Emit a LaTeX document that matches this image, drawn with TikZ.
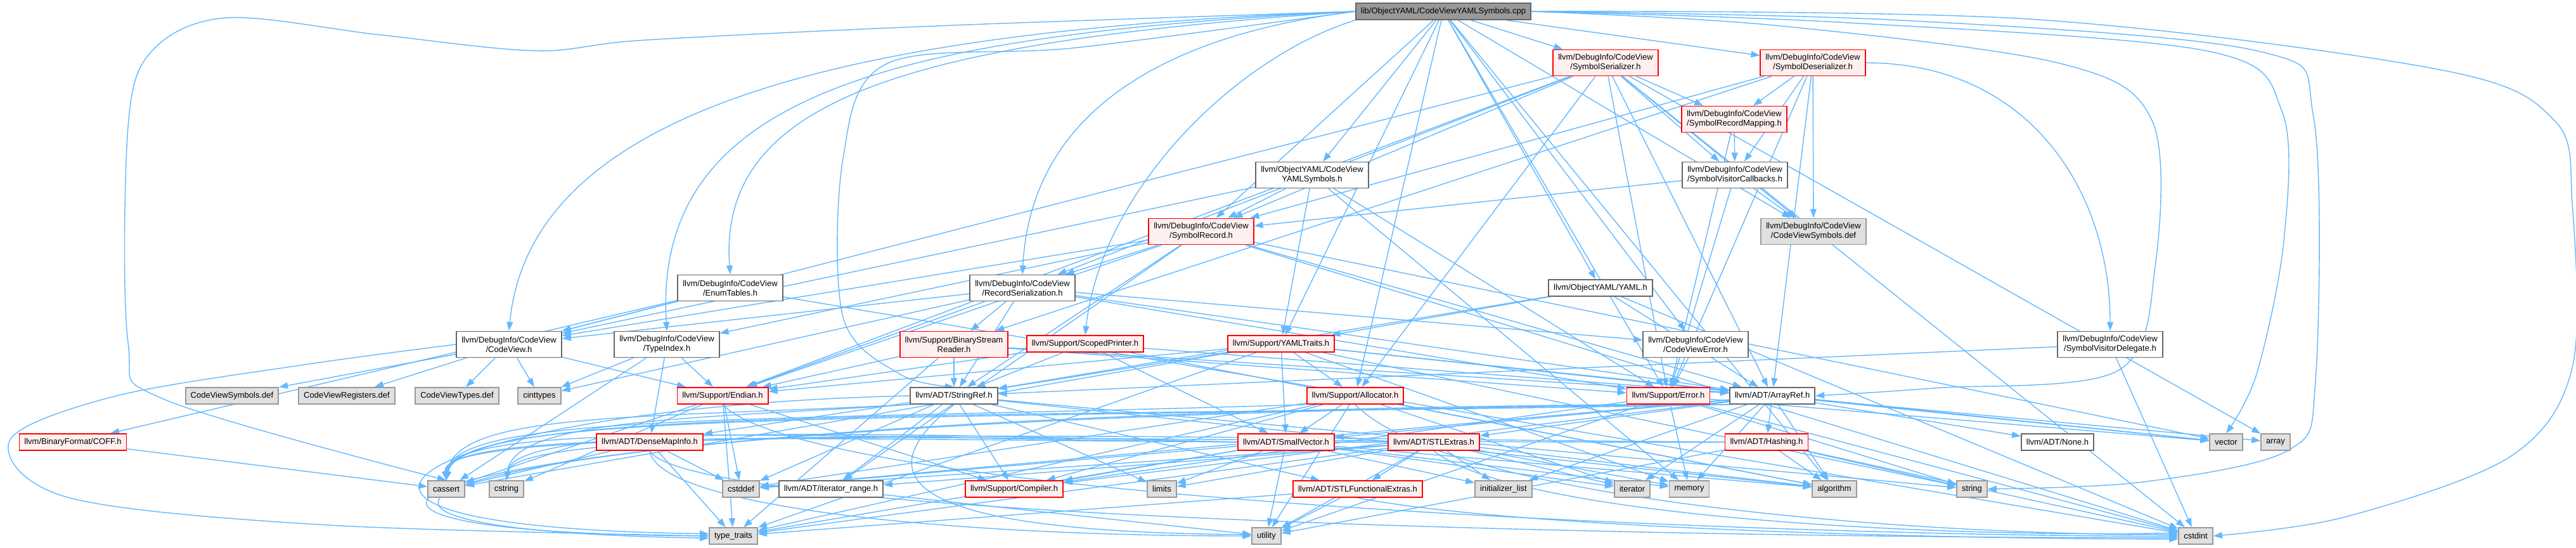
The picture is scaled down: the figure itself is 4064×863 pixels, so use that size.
\documentclass[tikz,border=0pt]{standalone}
\usepackage{fontspec}
\setmainfont{Liberation Sans}
\usetikzlibrary{arrows.meta}
\pgfdeclarelayer{bg}
\pgfsetlayers{bg,main}
\definecolor{edgec}{HTML}{63B8FF}
\definecolor{redb}{HTML}{FF0000}
\definecolor{redf}{HTML}{FFF0F0}
\definecolor{grayf}{HTML}{E0E0E0}
\definecolor{grayb}{HTML}{999999}
\definecolor{normb}{HTML}{666666}
\definecolor{rootf}{HTML}{999999}
\begin{document}
\begin{tikzpicture}[x=0.5pt,y=-0.5pt,
  nbase/.style={draw, line width=0.9pt, inner xsep=4pt, inner ysep=0pt, align=center,
    font=\fontsize{6.5}{7.5}\selectfont, minimum height=13pt},
  two/.style={minimum height=20.5pt},
  wnode/.style={nbase, draw=normb, fill=white},
  rnode/.style={nbase, draw=redb, fill=redf},
  gnode/.style={nbase, draw=grayb, fill=grayf},
  rootnode/.style={nbase, draw=normb, fill=rootf},
  dep/.style={draw=edgec, line width=0.7pt, -{Triangle[length=7pt,width=5pt]}}]
\path[use as bounding box] (0,0) rectangle (4064,863);
% rank 0-3
\node[rootnode] (R) at (2277,18) {lib/ObjectYAML/CodeViewYAMLSymbols.cpp};
\node[rnode,two] (SS) at (2533,99) {llvm/DebugInfo/CodeView\\/SymbolSerializer.h};
\node[rnode,two] (SD) at (2860,99) {llvm/DebugInfo/CodeView\\/SymbolDeserializer.h};
\node[rnode,two] (SRM) at (2736,188) {llvm/DebugInfo/CodeView\\/SymbolRecordMapping.h};
\node[wnode,two] (SVC) at (2737,276) {llvm/DebugInfo/CodeView\\/SymbolVisitorCallbacks.h};
\node[wnode,two] (YS) at (2070,276) {llvm/ObjectYAML/CodeView\\YAMLSymbols.h};
\node[rnode,two] (SRec) at (1895,365) {llvm/DebugInfo/CodeView\\/SymbolRecord.h};
\node[gnode,two] (CVSD) at (2861,365) {llvm/DebugInfo/CodeView\\/CodeViewSymbols.def};
\node[wnode,two] (ET) at (1152,454) {llvm/DebugInfo/CodeView\\/EnumTables.h};
\node[wnode,two] (RS) at (1613,454) {llvm/DebugInfo/CodeView\\/RecordSerialization.h};
\node[wnode] (YAML) at (2525,454) {llvm/ObjectYAML/YAML.h};
\node[wnode,two] (CV) at (803,543) {llvm/DebugInfo/CodeView\\/CodeView.h};
\node[wnode,two] (TI) at (1052,543) {llvm/DebugInfo/CodeView\\/TypeIndex.h};
\node[rnode,two] (BSR) at (1505,543) {llvm/Support/BinaryStream\\Reader.h};
\node[rnode] (SP) at (1712,542) {llvm/Support/ScopedPrinter.h};
\node[rnode] (YT) at (2021,542) {llvm/Support/YAMLTraits.h};
\node[wnode,two] (CVE) at (2675,543) {llvm/DebugInfo/CodeView\\/CodeViewError.h};
\node[wnode,two] (SVD) at (3329,543) {llvm/DebugInfo/CodeView\\/SymbolVisitorDelegate.h};
% row y=624
\node[gnode] (CVSdef) at (366,624) {CodeViewSymbols.def};
\node[gnode] (CVRdef) at (547,624) {CodeViewRegisters.def};
\node[gnode] (CVTdef) at (721,624) {CodeViewTypes.def};
\node[gnode] (cinttypes) at (851,624) {cinttypes};
\node[rnode] (EN) at (1140,624) {llvm/Support/Endian.h};
\node[wnode] (SR) at (1505,624) {llvm/ADT/StringRef.h};
\node[rnode] (AL) at (2138,624) {llvm/Support/Allocator.h};
\node[rnode] (ERR) at (2632,624) {llvm/Support/Error.h};
\node[wnode] (AR) at (2796,624) {llvm/ADT/ArrayRef.h};
% row y=697
\node[rnode] (COFF) at (115,697) {llvm/BinaryFormat/COFF.h};
\node[rnode] (DMI) at (1025,697) {llvm/ADT/DenseMapInfo.h};
\node[rnode] (SV) at (2029,697) {llvm/ADT/SmallVector.h};
\node[rnode] (STL) at (2262,697) {llvm/ADT/STLExtras.h};
\node[rnode] (HA) at (2787,697) {llvm/ADT/Hashing.h};
\node[wnode] (NONE) at (3246,697) {llvm/ADT/None.h};
\node[gnode] (vector) at (3512,697) {vector};
\node[gnode] (array) at (3590,697) {array};
% row y=771
\node[gnode] (cassert) at (704,771) {cassert};
\node[gnode] (cstring) at (799,771) {cstring};
\node[gnode] (cstddef) at (1169,771) {cstddef};
\node[wnode] (IR) at (1311,771) {llvm/ADT/iterator\_range.h};
\node[rnode] (COMP) at (1600,771) {llvm/Support/Compiler.h};
\node[gnode] (limits) at (1833,771) {limits};
\node[rnode] (SFE) at (2142,771) {llvm/ADT/STLFunctionalExtras.h};
\node[gnode] (initl) at (2372,771) {initializer\_list};
\node[gnode] (iterator) at (2575,771) {iterator};
\node[gnode] (memory) at (2665,771) {memory};
\node[gnode] (algorithm) at (2894,771) {algorithm};
\node[gnode] (string) at (3111,771) {string};
% row y=845
\node[gnode] (tt) at (1157,845) {type\_traits};
\node[gnode] (utility) at (1998,845) {utility};
\node[gnode] (cstdint) at (3464,845) {cstdint};

\begin{pgfonlayer}{bg}
\foreach \a/\b in {R/SS, R/SD, R/YS, R/SRec, R/CVE, R/YAML, R/YT, R/AL, R/ERR, R/CVSD, R/algorithm,
  SS/AR, SS/CV, SS/RS, SS/SRec, SS/SRM, SS/SVC, SS/AL, SS/EN, SS/ERR, SS/array, SS/cstdint, SS/CVSD,
  SD/AR, SD/SRec, SD/SRM, SD/SVC, SD/BSR, SD/ERR, SD/CVSD,
  SRM/SVC, SRM/ERR, SVC/SRec, SVC/ERR, SVC/CVSD,
  YS/CV, YS/SRec, YS/ERR, YS/YT, YS/memory,
  SRec/AR, SRec/SR, SRec/CV, SRec/RS, SRec/TI, SRec/EN, SRec/cstdint, SRec/vector, SRec/IR,
  RS/AR, RS/SR, RS/CV, RS/CVE, RS/BSR, RS/EN, RS/ERR, RS/cinttypes,
  ET/CV, ET/COFF, ET/cstdint,
  YAML/AR, YAML/SR, YAML/YT, YAML/cstdint, CVE/ERR,
  TI/DMI, TI/EN, TI/cassert, TI/cinttypes,
  CV/CVSdef, CV/CVRdef, CV/CVTdef, CV/cinttypes, CV/EN,
  BSR/AR, BSR/SR, BSR/EN, BSR/ERR, BSR/tt,
  SP/AR, SP/SV, SP/SR, SP/EN, SP/algorithm,
  YT/AR, YT/SV, YT/SR, YT/AL, YT/EN, YT/cassert, YT/memory, YT/string, YT/tt, YT/vector,
  SVD/SR, SVD/cstdint,
  EN/COMP, EN/cassert, EN/cstddef, EN/cstring, EN/tt,
  SR/DMI, SR/SFE, SR/IR, SR/COMP, SR/algorithm, SR/cstddef, SR/limits, SR/string,
  DMI/cassert, DMI/cstddef, DMI/tt, IR/utility,
  AL/SV, AL/COMP, AL/algorithm, AL/cstddef, AL/iterator, AL/tt, AL/utility,
  ERR/COMP, ERR/cstdint, ERR/memory, ERR/string, ERR/utility, ERR/vector,
  AR/HA, AR/NONE, AR/SV, AR/STL, AR/COMP, AR/algorithm, AR/array, AR/cstddef, AR/initl, AR/iterator, AR/memory, AR/vector,
  SV/COMP, SV/algorithm, SV/cstddef, SV/initl, SV/iterator, SV/limits, SV/memory, SV/tt, SV/utility,
  STL/SFE, STL/IR, STL/algorithm, STL/cstddef, STL/initl, STL/iterator, STL/limits, STL/memory, STL/tt, STL/utility,
  HA/algorithm, HA/string, HA/utility, HA/cstdint,
  SFE/tt, SFE/utility, COFF/cassert}
  \draw[dep] (\a) -- (\b);
% root edges sweeping left then down
\draw[dep] (R.west) .. controls (1400,45) and (839,150) .. (CV.north);
\draw[dep] (R.west) .. controls (1400,55) and (1030,150) .. (TI.north);
\draw[dep] (R.west) .. controls (1450,65) and (1131,150) .. (ET.north);
\draw[dep] plot[smooth,tension=0.55] coordinates {(R.west) (1700,75) (1400,100) (1330,250) (1330,500) (1420,590) (SR.north)};
\draw[dep] (R.west) .. controls (1800,60) and (1625,200) .. (RS.north);
\draw[dep] (R.south west) .. controls (1950,90) and (1737,300) .. (SP.north);
\draw[dep] plot[smooth,tension=0.55] coordinates {(R.west) (1500,40) (1020,63) (846,80) (600,55) (358,28) (240,80) (202,200) (202,540) (260,630) (cassert.north)};
% root edges sweeping right then down
\draw[dep] plot[smooth,tension=0.55] coordinates {(R.east) (2800,40) (3250,100) (3395,190) (3400,420) (3340,585) (3050,612) (AR.east)};
\draw[dep] plot[smooth,tension=0.55] coordinates {(R.east) (2900,35) (3480,80) (3600,175) (3603,380) (3560,590) (vector.north)};
\draw[dep] plot[smooth,tension=0.55] coordinates {(R.east) (3000,32) (3560,80) (3650,185) (3653,600) (3610,710) (3380,760) (string.east)};
\draw[dep] plot[smooth,tension=0.55] coordinates {(R.east) (3200,30) (3850,110) (4030,190) (4058,320) (4058,580) (3960,720) (3700,815) (cstdint.east)};
\draw[dep] (SD.east) .. controls (3200,99) and (3329,300) .. (SVD.north);
% CodeView.h -> type_traits loop round the left
\draw[dep] plot[smooth,tension=0.55] coordinates {(CV.west) (480,575) (180,625) (15,695) (110,785) (520,828) (tt.west)};
% long edges running left into cassert / cstring
\draw[dep] (SR.south west) .. controls (1000,660) and (720,650) .. (cassert.north);
\draw[dep] (AR.south west) .. controls (1500,660) and (730,640) .. (cassert.north);
\draw[dep] (ERR.south west) .. controls (1400,665) and (725,645) .. (cassert.north);
\draw[dep] (AL.south west) .. controls (1200,665) and (715,650) .. (cassert.north);
\draw[dep] (SV.west) .. controls (1300,690) and (710,660) .. (cassert.north);
\draw[dep] (STL.west) .. controls (1500,700) and (700,665) .. (cassert.north);
\draw[dep] (HA.west) .. controls (1800,700) and (690,660) .. (cassert.north);
\draw[dep] (SR.south west) .. controls (1100,660) and (810,660) .. (cstring.north);
\draw[dep] (SV.west) .. controls (1300,680) and (810,670) .. (cstring.north);
\draw[dep] (HA.west) .. controls (1800,690) and (815,665) .. (cstring.north);
% loops into type_traits / utility from the left
\draw[dep] (SR.west) .. controls (700,640) and (300,830) .. (tt.175);
\draw[dep] (AR.south west) .. controls (600,650) and (250,840) .. (tt.180);
\draw[dep] (ERR.south west) .. controls (650,655) and (280,835) .. (tt.185);
\draw[dep] (DMI.south) .. controls (1040,800) and (1500,845) .. (utility.west);
\draw[dep] (SR.south) .. controls (1300,800) and (1600,840) .. (utility.175);
% long bottom runs into cstdint
\draw[dep] (DMI.south) .. controls (1100,830) and (3000,850) .. (cstdint.185);
\draw[dep] (EN.south) .. controls (1300,800) and (3000,848) .. (cstdint.180);
\draw[dep] (AL.south) .. controls (2300,800) and (3100,845) .. (cstdint.175);
\draw[dep] (STL.south) .. controls (2400,820) and (3100,848) .. (cstdint.170);
\draw[dep] (SFE.south) .. controls (2400,835) and (3100,850) .. (cstdint.190);
\end{pgfonlayer}
\end{tikzpicture}
\end{document}
